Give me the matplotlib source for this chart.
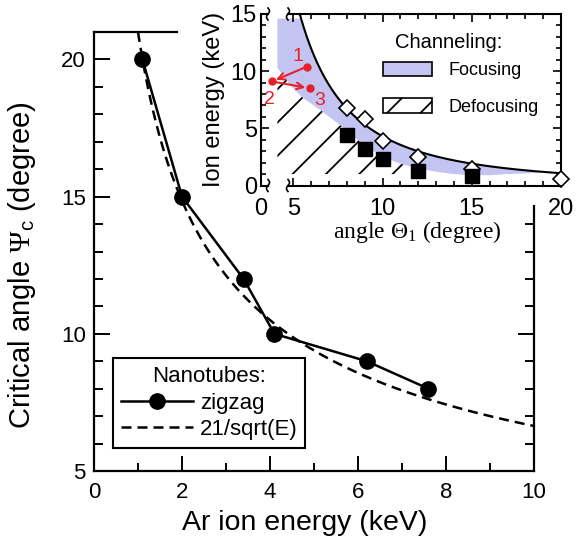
import numpy as np
import matplotlib
matplotlib.use('Agg')
import matplotlib.pyplot as plt
from matplotlib.patches import Rectangle, Patch

plt.rcParams['font.family'] = ['Liberation Sans', 'DejaVu Sans']
plt.rcParams['mathtext.fontset'] = 'custom'
plt.rcParams['mathtext.rm'] = 'Liberation Serif'
plt.rcParams['mathtext.it'] = 'Liberation Serif:italic'
plt.rcParams['mathtext.sf'] = 'Liberation Sans'
plt.rcParams['hatch.linewidth'] = 1.3

# ---------------- main panel data ----------------
zigzag_energy = [1.1, 2.0, 3.4, 4.1, 6.2, 7.6]
zigzag_angle = [20.0, 15.0, 12.0, 10.0, 9.0, 8.0]
fit_coeff = 21.0                      # 21/sqrt(E)
fit_energy = np.linspace(1.0, 10.0, 200)
fit_angle = fit_coeff / np.sqrt(fit_energy)

# ---------------- inset data ----------------
focus_angle = [8, 9, 10, 12, 15, 20]
focus_energy = [6.75, 5.8, 3.9, 2.5, 1.45, 0.6]
defocus_angle = [8, 9, 10, 12, 15]
defocus_energy = [4.4, 3.2, 2.35, 1.3, 0.8]
boundary_coeff = 430.0                # upper boundary E = c / theta^2
lower_angle = [4.1, 4.8, 5.5, 6.5, 7.6, 8.1, 9.0, 10.0, 11.0, 12.0,
               13.0, 14.0, 15.0, 16.0, 17.0, 18.0, 19.0]
lower_energy = [10.3, 8.8, 7.7, 6.6, 5.3, 4.6, 3.5, 2.5, 1.9, 1.5,
                1.2, 1.0, 0.9, 0.9, 1.0, 1.05, 1.15]
hatch_bottom = 1.0
hatch_end = 10                         # index into lower_* (x = 12)
blue_top = 14.6
path_angle = [5.76, 3.8, 5.9]
path_energy = [10.4, 9.1, 8.5]
path_labels = ['1', '2', '3']
path_label_pos = [(5.25, 11.3), (3.65, 7.5), (6.45, 7.4)]
inset_xticks = [3.18, 5, 10, 15, 20]
inset_xticklabels = ['0', '5', '10', '15', '20']

W, H = 586, 541
fig = plt.figure(figsize=(W / 100, H / 100), dpi=100)


def rect(x0, y0, x1, y1):
    return [x0 / W, 1 - y1 / H, (x1 - x0) / W, (y1 - y0) / H]


# ================= main axes =================
ax = fig.add_axes(rect(94, 32, 534, 471))
l_fit, = ax.plot(fit_energy, fit_angle, color='k', lw=1.8, ls=(0, (4, 2.4)),
                 label='21/sqrt(E)', zorder=3)
l_zz, = ax.plot(zigzag_energy, zigzag_angle, color='k', lw=1.8, marker='o',
                ms=11, label='zigzag', zorder=3)
ax.set_xlim(0, 10)
ax.set_ylim(5, 21)
ax.set_xticks([0, 2, 4, 6, 8, 10])
ax.set_xticks(np.arange(1, 10, 2), minor=True)
ax.set_yticks([5, 10, 15, 20])
ax.set_yticks(np.arange(5, 21, 1), minor=True)
ax.tick_params(which='both', direction='in', right=True, top=False,
               width=1.4, labelsize=16)
ax.tick_params(axis='x', which='major', length=11, pad=8)
ax.tick_params(axis='x', which='minor', length=6)
ax.tick_params(axis='y', which='major', length=11.5, pad=6)
ax.tick_params(axis='y', which='minor', length=6.5)
for s in ax.spines.values():
    s.set_linewidth(1.6)
ax.spines['top'].set_bounds(0, (177 - 94) / 44)
ax.set_xlabel('Ar ion energy (keV)', fontsize=20.5)
ax.xaxis.set_label_coords((305 - 94) / 440, (471 - 510) / 439)
ax.set_ylabel(r'Critical angle $\Psi_{\mathsf{c}}$ (degree)', fontsize=21)
ax.yaxis.set_label_coords((38 - 94) / 440, (471 - 265) / 439)
leg = ax.legend(handles=[l_zz, l_fit], title='Nanotubes:', fontsize=16,
                title_fontsize=16, loc='lower left',
                bbox_to_anchor=(19 / 440, 23 / 439), borderaxespad=0,
                handlelength=3.25, handletextpad=0.3, labelspacing=0.25,
                borderpad=0.35, fancybox=False, framealpha=1,
                edgecolor='k')
leg.get_frame().set_linewidth(1.5)

# white area behind inset (hides the upper right of the main frame)
ax.add_patch(Rectangle((193 / W, 1 - 205 / H), 1, 205 / H,
                       transform=fig.transFigure, facecolor='white',
                       edgecolor='none', zorder=10, clip_on=False))

# ================= inset axes =================
axin = fig.add_axes(rect(261, 14, 561, 185.5))
axin.set_xlim(3.18, 20)
axin.set_ylim(0, 15)

blue = '#c3c4f2'
up_x = np.linspace(lower_angle[0], lower_angle[-1], 400)
up_y = np.minimum(boundary_coeff / up_x ** 2, blue_top)
poly_x = list(up_x) + lower_angle[::-1]
poly_y = list(up_y) + lower_energy[::-1]
axin.fill(poly_x, poly_y, facecolor=blue, edgecolor='none', zorder=1)

hx = lower_angle[:hatch_end] + [lower_angle[hatch_end - 1], lower_angle[0]]
hy = lower_energy[:hatch_end] + [hatch_bottom, hatch_bottom]
axin.fill(hx, hy, facecolor='none', edgecolor='k', hatch='/', lw=0, zorder=1)

cx = np.linspace(5.0, 20, 400)
axin.plot(cx, boundary_coeff / cx ** 2, color='k', lw=1.5, zorder=2)

axin.plot(focus_angle, focus_energy, ls='none', marker='D', ms=8.5,
          mfc='white', mec='k', mew=1.2, zorder=4, clip_on=False)
axin.plot(defocus_angle, defocus_energy, ls='none', marker='s', ms=9.5,
          color='k', zorder=5, clip_on=False)

red = '#e8202a'
for i in range(2):
    axin.annotate('', xy=(path_angle[i + 1], path_energy[i + 1]),
                  xytext=(path_angle[i], path_energy[i]),
                  arrowprops=dict(arrowstyle='->', color=red, lw=1.5,
                                  shrinkA=0, shrinkB=3, mutation_scale=12),
                  zorder=6)
axin.plot(path_angle, path_energy, ls='none', marker='o', ms=5, color=red,
          zorder=7)
for lab, (px, py) in zip(path_labels, path_label_pos):
    axin.text(px, py, lab, color=red, fontsize=14, ha='center', va='center',
              zorder=7)

axin.set_xticks(inset_xticks)
axin.set_xticklabels(inset_xticklabels)
axin.set_xticks(np.arange(5, 21, 1), minor=True)
axin.set_yticks([0, 5, 10, 15])
axin.set_yticks(np.arange(0, 16, 1), minor=True)
axin.tick_params(which='both', direction='in', top=True, right=True,
                 width=1.2, labelsize=17)
axin.tick_params(which='major', length=6)
axin.tick_params(which='minor', length=3.5)
axin.tick_params(axis='x', pad=9)
axin.tick_params(axis='y', pad=3)
axin.spines['left'].set_linewidth(1.5)
axin.spines['right'].set_linewidth(1.5)
axin.spines['top'].set_visible(False)
axin.spines['bottom'].set_visible(False)

# broken top/bottom spines with squiggles
b1, b2 = 7 / 300, 27 / 300
for yy in (0, 1):
    axin.plot([0, b1], [yy, yy], color='k', lw=1.5, transform=axin.transAxes,
              clip_on=False, zorder=8)
    axin.plot([b2, 1], [yy, yy], color='k', lw=1.5, transform=axin.transAxes,
              clip_on=False, zorder=8)
    t = np.linspace(-1, 1, 30)
    for bx in (b1, b2):
        axin.plot(bx + 2.5 / 300 * np.sin(np.pi * t) * 0.6,
                  yy + 6 / 171.5 * t, color='k', lw=1.2,
                  transform=axin.transAxes, clip_on=False, zorder=8)

axin.set_xlabel(r'angle $\Theta_1$ (degree)', fontsize=17,
                family=['Liberation Serif'])
axin.xaxis.set_label_coords((417 - 261) / 300, (185.5 - 219) / 171.5)
axin.set_ylabel('Ion energy (keV)', fontsize=17, labelpad=4)

h1 = Patch(facecolor=blue, edgecolor='k', lw=1.2, label='Focusing')
h2 = Patch(facecolor='white', edgecolor='k', hatch='/', lw=1.2,
           label='Defocusing')
axin.legend(handles=[h1, h2], loc='upper left',
            bbox_to_anchor=(383 / W, 1 - 62 / H),
            bbox_transform=fig.transFigure, frameon=False, fontsize=13,
            handlelength=2.7, handleheight=0.85, handletextpad=0.9,
            labelspacing=1.05, borderpad=0, borderaxespad=0)
fig.text(449 / W, 1 - 42 / H, 'Channeling:', fontsize=14.5, ha='center',
         va='center')

fig.savefig('out.png', dpi=100)
